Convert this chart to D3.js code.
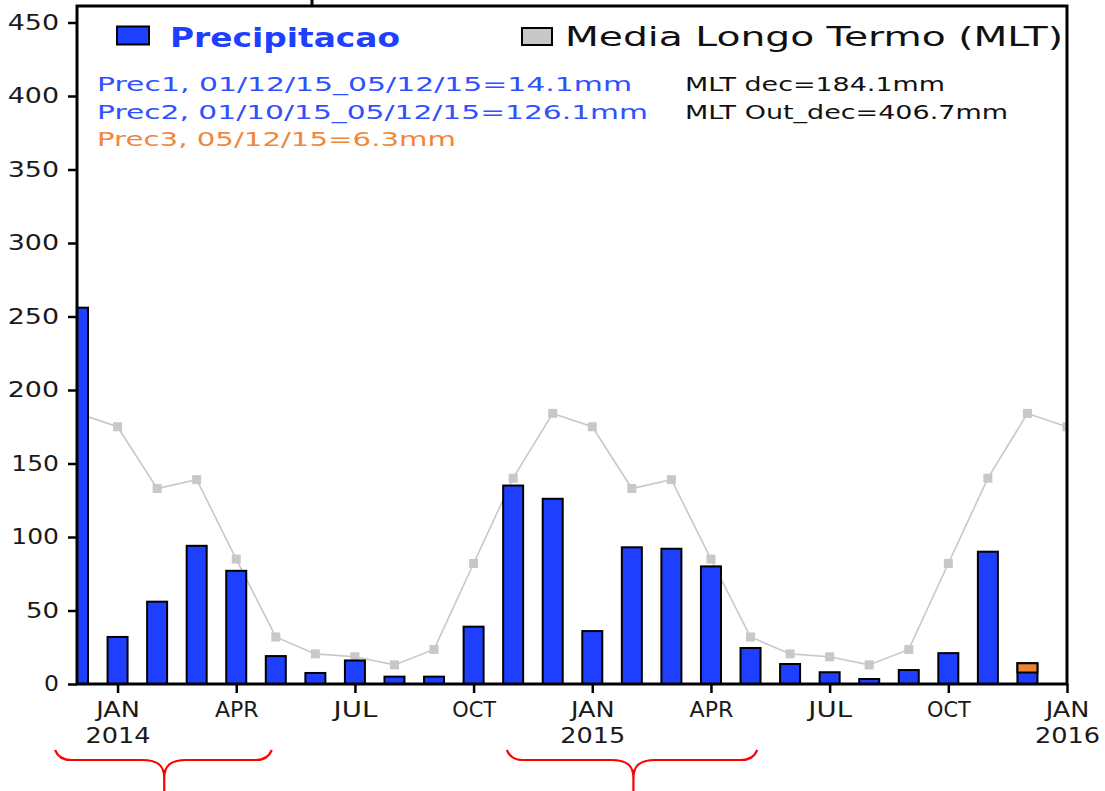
<!DOCTYPE html>
<html>
<head>
<meta charset="utf-8">
<script src="https://cdn.jsdelivr.net/npm/d3@7"></script>
<style>
  html, body { margin: 0; padding: 0; background: #fff; }
  svg { display: block; }
  text { font-family: "DejaVu Sans", sans-serif; }
</style>
</head>
<body>
<svg id="chart" width="1105" height="791"></svg>
<script>
// ---------- DATA ----------
const months = ["2013-12","2014-01","2014-02","2014-03","2014-04","2014-05","2014-06","2014-07","2014-08","2014-09","2014-10","2014-11","2014-12",
                "2015-01","2015-02","2015-03","2015-04","2015-05","2015-06","2015-07","2015-08","2015-09","2015-10","2015-11","2015-12","2016-01"];
// monthly precipitation (mm), Dec 2013 .. Dec 2015 (Dec 2015 = Prec1 partial month)
const precip = [256, 32, 56, 94, 77, 19, 7.5, 16, 5, 5, 39, 135, 126,
                36, 93, 92, 80, 24.5, 13.6, 8, 3.4, 9.5, 21, 90, 14.1];
// last day precipitation (Prec3) stacked on the last month
const lastDayMonth = "2015-12";
const lastDayValue = 6.3;
// long-term mean (MLT), Dec 2013 .. Jan 2016
const mlt = [184.1, 175, 133, 139, 85, 32, 20.5, 18.5, 13, 23.5, 82, 140, 184.1,
             175, 133, 139, 85, 32, 20.5, 18.5, 13, 23.5, 82, 140, 184.1, 175];
const yTicks = [0, 50, 100, 150, 200, 250, 300, 350, 400, 450];
const tickMonths = ["2014-01","2014-04","2014-07","2014-10","2015-01","2015-04","2015-07","2015-10","2016-01"];
const tickLabels = ["JAN","APR","JUL","OCT","JAN","APR","JUL","OCT","JAN"];
const tickYears  = ["2014","","","","2015","","","","2016"];
const legendLabels = ["Precipitacao", "Media Longo Termo (MLT)"];
const notesLeft  = ["Prec1, 01/12/15_05/12/15=14.1mm", "Prec2, 01/10/15_05/12/15=126.1mm", "Prec3, 05/12/15=6.3mm"];
const notesRight = ["MLT dec=184.1mm", "MLT Out_dec=406.7mm"];
// braces under the axis, in month-index units (from, to, tip)
const braces = [[-0.58, 4.9, 2.18], [10.84, 17.17, 14.04]];

// ---------- LAYOUT ----------
const L = 77, R = 1067, T = 6, B = 684;
const svg = d3.select("#chart");
const x = d3.scalePoint().domain(months).range([78, R]);
const y = d3.scaleLinear().domain([0, 450]).range([B, 22.5]);
const xi = i => x(months[0]) + i * x.step();

const BLUE = "#1f3fff", GRAY = "#c8c8c8", ORANGE = "#ee8430";
// width of the wide plotter font per character
const widthOf = (s, per) => {
  const narrow = { "1": 0.8, "I": 0.5, ",": 0.5, ".": 0.5, " ": 0.7 };
  let w = 0;
  for (const ch of s) w += per * (narrow[ch] || 1);
  return w - per * 0.18;
};

svg.append("defs").append("clipPath").attr("id", "plotclip")
  .append("rect").attr("x", L).attr("y", T).attr("width", R - L).attr("height", B - T);

const plot = svg.append("g").attr("clip-path", "url(#plotclip)");

// MLT line (behind bars)
plot.append("path")
  .datum(mlt)
  .attr("fill", "none").attr("stroke", GRAY).attr("stroke-width", 1.6)
  .attr("d", d3.line().x((d, i) => x(months[i])).y(d => y(d)));
plot.selectAll("rect.mk").data(mlt).join("rect").attr("class", "mk")
  .attr("x", (d, i) => x(months[i]) - 4.5).attr("y", d => y(d) - 4.5)
  .attr("width", 9).attr("height", 9).attr("fill", GRAY);

// bars
const bw = 20;
const lastIdx = months.indexOf(lastDayMonth);
plot.selectAll("rect.bar").data(precip).join("rect").attr("class", "bar")
  .attr("x", (d, i) => x(months[i]) - bw / 2)
  .attr("width", bw)
  .attr("y", d => y(d))
  .attr("height", d => B - y(d))
  .attr("fill", BLUE).attr("stroke", "#000").attr("stroke-width", 2);
const tot = precip[lastIdx];
plot.append("rect")
  .attr("x", x(lastDayMonth) - bw / 2).attr("width", bw)
  .attr("y", y(tot)).attr("height", y(tot - lastDayValue) - y(tot))
  .attr("fill", ORANGE).attr("stroke", "#000").attr("stroke-width", 2);

// axes
const yAxis = d3.axisLeft(y).tickValues(yTicks).tickSize(9).tickPadding(9);
const gy = svg.append("g").attr("transform", `translate(${L},0)`).call(yAxis);
gy.select(".domain").remove();
gy.selectAll(".tick line").attr("stroke", "#000").attr("stroke-width", 2.5);
gy.selectAll(".tick text").attr("font-size", 21).attr("fill", "#1a1a1a")
  .attr("font-family", "DejaVu Sans")
  .attr("textLength", d => widthOf(String(d), 18.2)).attr("lengthAdjust", "spacingAndGlyphs");

const xAxis = d3.axisBottom(x).tickValues(tickMonths).tickSize(9).tickPadding(9)
  .tickFormat((d, i) => tickLabels[i]);
const gx = svg.append("g").attr("transform", `translate(0,${B})`).call(xAxis);
gx.select(".domain").remove();
gx.selectAll(".tick line").attr("stroke", "#000").attr("stroke-width", 2.5);
gx.selectAll(".tick text").attr("font-size", 21).attr("fill", "#1a1a1a")
  .attr("font-family", "DejaVu Sans")
  .attr("textLength", (d, i) => widthOf(tickLabels[i], 15.5)).attr("lengthAdjust", "spacingAndGlyphs");
gx.selectAll(".tick").each(function(d, i) {
  if (tickYears[i]) {
    d3.select(this).append("text")
      .attr("y", 59).attr("text-anchor", "middle")
      .attr("font-size", 21).attr("fill", "#1a1a1a").attr("font-family", "DejaVu Sans")
      .attr("textLength", widthOf(tickYears[i], 18)).attr("lengthAdjust", "spacingAndGlyphs")
      .text(tickYears[i]);
  }
});

// frame
svg.append("rect").attr("x", L).attr("y", T).attr("width", R - L).attr("height", B - T)
  .attr("fill", "none").attr("stroke", "#000").attr("stroke-width", 3);
svg.append("line").attr("x1", 312).attr("x2", 312).attr("y1", 0).attr("y2", T)
  .attr("stroke", "#000").attr("stroke-width", 3);

// legend
svg.append("rect").attr("x", 117).attr("y", 26.5).attr("width", 32).attr("height", 18)
  .attr("fill", BLUE).attr("stroke", "#000").attr("stroke-width", 2);
svg.append("text").attr("x", 170).attr("y", 47).attr("font-size", 26).attr("font-weight", "bold")
  .attr("fill", BLUE).attr("textLength", 230).attr("lengthAdjust", "spacingAndGlyphs").text(legendLabels[0]);
svg.append("rect").attr("x", 522).attr("y", 28).attr("width", 30).attr("height", 17)
  .attr("fill", GRAY).attr("stroke", "#000").attr("stroke-width", 2);
svg.append("text").attr("x", 565).attr("y", 46).attr("font-size", 26)
  .attr("fill", "#111").attr("textLength", 498).attr("lengthAdjust", "spacingAndGlyphs").text(legendLabels[1]);

// annotations
const noteW = [535, 551, 359];
const noteC = ["#2f50ff", "#2f50ff", "#f0883c"];
notesLeft.forEach((s, i) => {
  svg.append("text").attr("x", 97).attr("y", 91 + i * 27.5).attr("font-size", 19)
    .attr("fill", noteC[i]).attr("textLength", noteW[i]).attr("lengthAdjust", "spacingAndGlyphs").text(s);
});
const noteRW = [260, 323];
notesRight.forEach((s, i) => {
  svg.append("text").attr("x", 685).attr("y", 91 + i * 27.5).attr("font-size", 19)
    .attr("fill", "#111").attr("textLength", noteRW[i]).attr("lengthAdjust", "spacingAndGlyphs").text(s);
});

// braces
braces.forEach(([a, b, c]) => {
  const x0 = xi(a), x1 = xi(b), xm = xi(c);
  const y0 = 750, y1 = 760, y2 = 791;
  const p = d3.path();
  p.moveTo(x0, y0);
  p.quadraticCurveTo(x0 + 4, y1, x0 + 16, y1);
  p.lineTo(xm - 22, y1);
  p.bezierCurveTo(xm - 6, y1, xm, y1 + 6, xm, y1 + 18);
  p.lineTo(xm, y2);
  p.moveTo(x1, y0);
  p.quadraticCurveTo(x1 - 4, y1, x1 - 16, y1);
  p.lineTo(xm + 22, y1);
  p.bezierCurveTo(xm + 6, y1, xm, y1 + 6, xm, y1 + 18);
  svg.append("path").attr("d", p.toString()).attr("fill", "none")
    .attr("stroke", "#ff0000").attr("stroke-width", 2.2);
});
</script>
</body>
</html>
